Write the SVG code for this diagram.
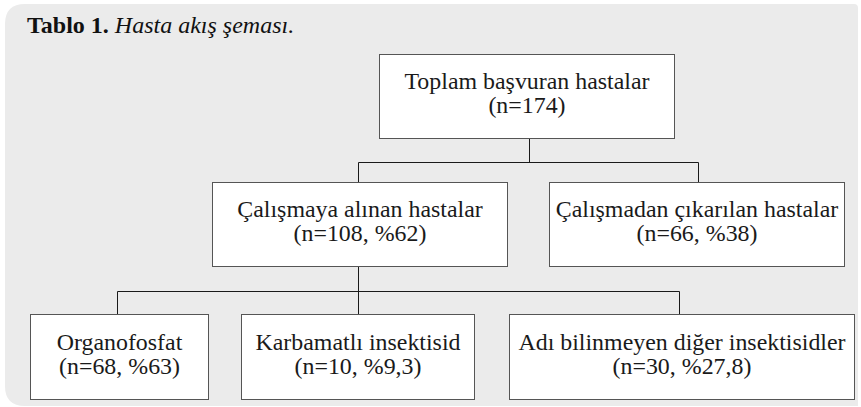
<svg xmlns="http://www.w3.org/2000/svg" width="861" height="407" viewBox="0 0 861 407">
<style>
.bg{fill:#ebebeb}
.box{fill:#ffffff;stroke:#555555;stroke-width:1}
.t{font-family:'Liberation Serif', 'DejaVu Serif', serif;font-size:23.9px;fill:#1a1a1a;text-anchor:middle}
.title{font-family:'Liberation Serif', 'DejaVu Serif', serif;font-size:24px;fill:#111}
.conn{fill:none;stroke:#1a1a1a;stroke-width:1}
</style>
<path class="bg" d="M25,4 H854 Q858,4 858,8 V406 H25 Q5,406 5,386 V24 Q5,4 25,4 Z"/>
<text class="title" x="27" y="33"><tspan font-weight="bold">Tablo 1.</tspan> <tspan font-style="italic">Hasta akış şeması.</tspan></text>
<g id="connectors">
<path class="conn" d="M529.5,138 V162.5 M358.5,162.5 H698.5 M358.5,162.5 V182 M698.5,162.5 V182"/>
<path class="conn" d="M358.5,266 V314 M117.5,291.5 H679.5 M117.5,291.5 V314 M679.5,291.5 V314"/>
</g>
<g id="n-total">
<rect class="box" x="379.5" y="54.5" width="295" height="84"/>
<text class="t" x="527" y="89">Toplam başvuran hastalar</text>
<text class="t" x="527" y="113">(n=174)</text>
</g>
<g id="n-included">
<rect class="box" x="212.5" y="182.5" width="295" height="84"/>
<text class="t" x="360" y="217">Çalışmaya alınan hastalar</text>
<text class="t" x="360" y="241">(n=108, %62)</text>
</g>
<g id="n-excluded">
<rect class="box" x="549.5" y="182.5" width="295" height="84"/>
<text class="t" x="697" y="217">Çalışmadan çıkarılan hastalar</text>
<text class="t" x="697" y="241">(n=66, %38)</text>
</g>
<g id="n-organofosfat">
<rect class="box" x="30.5" y="314.5" width="178" height="85"/>
<text class="t" x="119.5" y="350">Organofosfat</text>
<text class="t" x="119.5" y="374">(n=68, %63)</text>
</g>
<g id="n-karbamat">
<rect class="box" x="241.5" y="314.5" width="233" height="85"/>
<text class="t" x="358" y="350">Karbamatlı insektisid</text>
<text class="t" x="358" y="374">(n=10, %9,3)</text>
</g>
<g id="n-diger">
<rect class="box" x="509.5" y="314.5" width="345" height="85"/>
<text class="t" x="682" y="350">Adı bilinmeyen diğer insektisidler</text>
<text class="t" x="682" y="374">(n=30, %27,8)</text>
</g>
</svg>
